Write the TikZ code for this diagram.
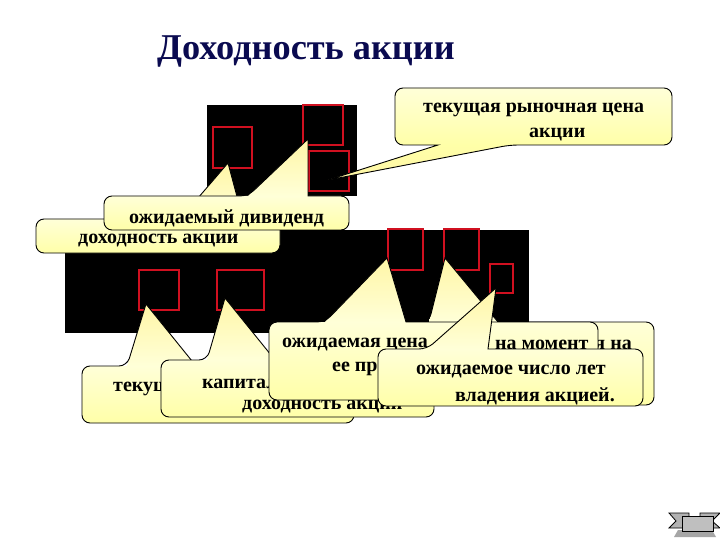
\documentclass[tikz,border=0pt]{standalone}
\usepackage{fontspec}
\setmainfont{Liberation Serif}
\definecolor{tailc}{HTML}{FFF6A6}
\definecolor{bodytop}{HTML}{FFFFD8}
\definecolor{bodybot}{HTML}{FFFFA8}
\definecolor{redbox}{HTML}{D01020}
\definecolor{titlec}{HTML}{0A0A50}
\tikzset{
  redframe/.style={draw=redbox,line width=2pt},
  blackblock/.style={fill=black},
  outline/.style={draw=black,line width=0.9pt},
  lab/.style={anchor=west,inner sep=0pt,yshift=-2pt,font=\fontsize{20}{22}\selectfont\bfseries,text=black},
}
% x1 y1 x2 y2 : body; #5 tip; #6,#7 base x on top edge
\newcommand{\calloutTop}[7]{%
  \def\pathspec{(#7,#2) [rounded corners=8pt] -- (#3,#2) -- (#3,#4) -- (#1,#4) -- (#1,#2) -- (#6,#2) [sharp corners] -- (#5) -- cycle}%
  \shade[top color=tailc,bottom color=bodytop] (#6,#2) -- (#5) -- (#7,#2) -- cycle;
  \shade[top color=bodytop,bottom color=bodybot,rounded corners=8pt] (#1,#2) rectangle (#3,#4);
  \path[outline] \pathspec;
}
% same with the tail on the bottom edge
\newcommand{\calloutBottom}[7]{%
  \def\pathspec{(#6,#4) [rounded corners=8pt] -- (#1,#4) -- (#1,#2) -- (#3,#2) -- (#3,#4) -- (#7,#4) [sharp corners] -- (#5) -- cycle}%
  \shade[top color=bodybot,bottom color=tailc] (#6,#4) -- (#5) -- (#7,#4) -- cycle;
  \shade[top color=bodytop,bottom color=bodybot,rounded corners=8pt] (#1,#2) rectangle (#3,#4);
  \path[outline] \pathspec;
}
\begin{document}
\begin{tikzpicture}[x=1pt,y=-1pt]
\useasboundingbox (0,0) rectangle (720,540);
\fill[white] (0,0) rectangle (720,540);
\node[anchor=west,inner sep=0pt,yshift=-3pt,font=\fontsize{36.3}{38}\selectfont\bfseries,text=titlec] (title) at (157,48) {Доходность акции};
% black blocks
\fill[blackblock] (207,105) rectangle (357,196);
\fill[blackblock] (65,230) rectangle (529,333);
% red frames
\draw[redframe] (213,127) rectangle (252,168);
\draw[redframe] (303,105) rectangle (343,145);
\draw[redframe] (309,151) rectangle (349,191);
\draw[redframe] (388,229) rectangle (423,270);
\draw[redframe] (444,229) rectangle (479,270);
\draw[redframe] (490,264) rectangle (513,293);
\draw[redframe] (139,270) rectangle (179,310);
\draw[redframe] (217,270) rectangle (264,310);
% callouts
\calloutBottom{395}{88}{672}{145}{328,180}{438}{510}
\node[lab] (a1) at (423,108) {текущая рыночная цена};
\node[lab] (a2) at (529,133) {акции};
\calloutTop{36}{219}{280}{253}{228,163}{180}{243}
\node[lab] (b1) at (78,239) {доходность акции};
\calloutTop{104}{196}{349}{230}{308,139}{248}{308}
\node[lab] (c1) at (129,216) {ожидаемый дивиденд};
\calloutTop{82}{366}{354}{423}{146,304}{127}{196}
\node[lab] (d1) at (113,387) {текущ};
\calloutTop{161}{360}{434}{417}{225,298}{207}{275}
\node[lab] (e1) at (202,382) {капитал};
\node[lab] (e2) at (242,405) {доходность акции};
\calloutTop{400}{322}{654}{405}{445,258}{429}{498}
\node[lab,anchor=east] (f1) at (632,343) {я на};
\calloutTop{269}{322}{598}{400}{387,258}{325}{406}
\node[lab] (g1) at (282,343) {ожидаемая цена};
\node[lab] (g2) at (495,343) {на момент};
\node[lab] (g3) at (332,367) {ее пр};
\calloutTop{378}{349}{643}{406}{496,288}{427}{488}
\node[lab] (h1) at (416,370) {ожидаемое число лет};
\node[lab] (h2) at (455,394) {владения акцией.};
% ribbon icon
\fill[gray!70] (678,530) -- (712,530) -- (716,537) -- (674,537) -- cycle;
\filldraw[fill=gray!60,draw=black,line width=0.8pt] (669,513) -- (689,513) -- (689,528) -- (669,528) -- (676,521) -- cycle;
\filldraw[fill=gray!60,draw=black,line width=0.8pt] (700,513) -- (720,513) -- (712,521) -- (720,528) -- (700,528) -- cycle;
\filldraw[fill=gray!50,draw=black,line width=0.8pt] (682,516) rectangle (713,531);
\end{tikzpicture}
\end{document}
